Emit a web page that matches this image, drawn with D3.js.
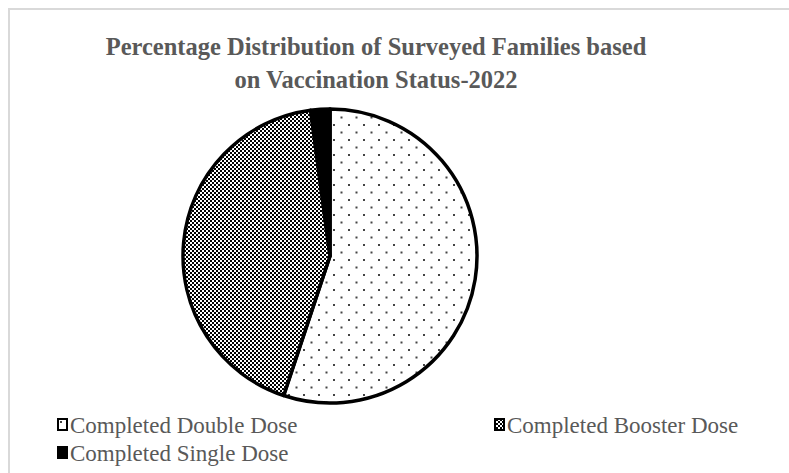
<!DOCTYPE html>
<html>
<head>
<meta charset="utf-8">
<script src="https://cdn.jsdelivr.net/npm/d3@7"></script>
<style>
  body { margin: 0; background: #fff; }
  text { font-family: "Liberation Serif", "DejaVu Serif", serif; }
</style>
</head>
<body>
<svg width="789" height="473"></svg>
<script>
// values (percent)
var categories = ['Completed Double Dose', 'Completed Booster Dose', 'Completed Single Dose']
var values = [55.1, 42.8, 2.1]
var titleLines = ['Percentage Distribution of Surveyed Families based', 'on Vaccination Status-2022']

var svg = d3.select('svg')
var width = 789
var height = 473

// chart frame, cut by the window on the right and bottom
svg.append('rect')
  .attr('x', 9).attr('y', 9)
  .attr('width', width + 20).attr('height', height + 20)
  .attr('fill', '#fff')
  .attr('stroke', '#d9d9d9')
  .attr('stroke-width', 2)

var defs = svg.append('defs')

var dots = defs.append('pattern')
  .attr('id', 'pat0')
  .attr('patternUnits', 'userSpaceOnUse')
  .attr('width', 15).attr('height', 15)
dots.append('rect').attr('width', 15).attr('height', 15).attr('fill', '#fff')
dots.append('rect').attr('x', 3).attr('y', 3).attr('width', 2).attr('height', 2).attr('fill', '#444')
dots.append('rect').attr('x', 10.5).attr('y', 10.5).attr('width', 2).attr('height', 2).attr('fill', '#444')

var checker = defs.append('pattern')
  .attr('id', 'pat1')
  .attr('patternUnits', 'userSpaceOnUse')
  .attr('width', 4).attr('height', 4)
checker.append('rect').attr('width', 4).attr('height', 4).attr('fill', '#fff')
checker.append('rect').attr('width', 2).attr('height', 2).attr('fill', '#000')
checker.append('rect').attr('x', 2).attr('y', 2).attr('width', 2).attr('height', 2).attr('fill', '#000')

var fills = ['url(#pat0)', 'url(#pat1)', '#000']

// title
svg.append('g').selectAll('text')
  .data(titleLines)
  .join('text')
  .attr('x', 376)
  .attr('y', (d, i) => 55 + i * 33)
  .attr('text-anchor', 'middle')
  .attr('font-size', 24.5)
  .attr('font-weight', 'bold')
  .attr('fill', '#595959')
  .text(d => d)

// pie
var cx = 330, cy = 256, r = 147
var pie = d3.pie().sort(null).value(d => d)
var arc = d3.arc().innerRadius(0).outerRadius(r)

var g = svg.append('g').attr('transform', 'translate(' + cx + ',' + cy + ')')
g.selectAll('path')
  .data(pie(values))
  .join('path')
  .attr('d', arc)
  .attr('fill', (d, i) => fills[i])
  .attr('stroke', '#000')
  .attr('stroke-width', 3.5)
  .attr('stroke-linejoin', 'round')

// legend
var legendPos = [[57, 433], [494, 433], [57, 461]]
var lg = svg.append('g').selectAll('g')
  .data(categories)
  .join('g')
  .attr('transform', (d, i) => 'translate(' + legendPos[i][0] + ',' + legendPos[i][1] + ')')

lg.append('rect')
  .attr('x', 1).attr('y', -14)
  .attr('width', 9).attr('height', 11)
  .attr('fill', (d, i) => fills[i])
  .attr('stroke', '#000')
  .attr('stroke-width', 2)

lg.append('text')
  .attr('x', 13)
  .attr('y', 0)
  .attr('font-size', 23)
  .attr('fill', '#595959')
  .text(d => d)
</script>
</body>
</html>
